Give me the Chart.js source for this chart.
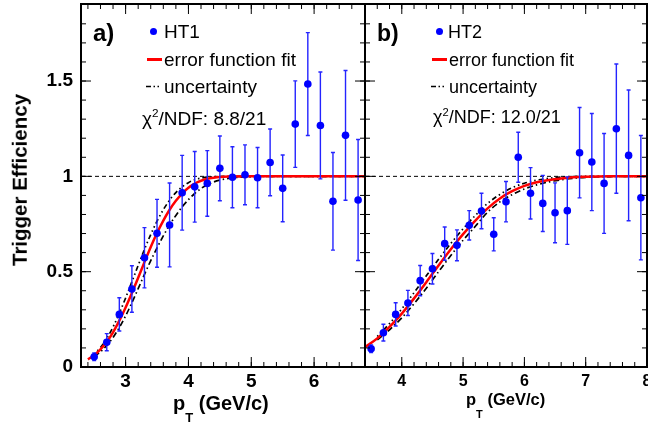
<!DOCTYPE html>
<html>
<head>
<meta charset="utf-8">
<script src="https://cdn.jsdelivr.net/npm/chart.js@4"></script>
<style>
  body{margin:0;background:#fff;}
  #wrap{position:relative;width:648px;height:424px;background:#fff;overflow:hidden;}
  .box{position:absolute;top:0;height:424px;}
  .t{position:absolute;font-family:"Liberation Sans",Arial,Helvetica,sans-serif;white-space:nowrap;line-height:1;color:#000;}
  .b{font-weight:bold;}
  .dot{position:absolute;width:7px;height:7px;border-radius:50%;background:#0000ff;}
  .red{position:absolute;height:2.5px;background:#ff0000;}
  .sup{font-size:0.62em;position:relative;top:-0.62em;}
</style>
</head>
<body>
<div id="wrap">
  <div class="box" style="left:0;width:367px"><canvas id="c1"></canvas></div>
  <div class="box" style="left:360px;width:288px"><canvas id="c2"></canvas></div>

  <!-- y title -->
  <div class="t b" style="left:20px;top:180px;font-size:20.5px;transform:translate(-50%,-50%) rotate(-90deg)">Trigger Efficiency</div>

  <!-- panel a legend -->
  <div class="t b" style="left:93px;top:21px;font-size:24px">a)</div>
  <div class="dot" style="left:150px;top:28px"></div>
  <div class="t" style="left:164px;top:22.4px;font-size:19px">HT1</div>
  <div class="red" style="left:147px;top:58px;width:15px"></div>
  <div class="t" style="left:164px;top:50px;font-size:19px">error function fit</div>
  <svg style="position:absolute;left:146px;top:84px" width="17" height="5"><line x1="0" y1="2.5" x2="16" y2="2.5" stroke="#000" stroke-width="1.6" stroke-dasharray="5,2.5,1.5,2.5,1.5,3"/></svg>
  <div class="t" style="left:164px;top:77.4px;font-size:19px">uncertainty</div>
  <div class="t" style="left:142px;top:108.7px;font-size:19px">χ<span class="sup">2</span>/NDF: 8.8/21</div>

  <!-- panel b legend -->
  <div class="t b" style="left:377px;top:21.7px;font-size:23px">b)</div>
  <div class="dot" style="left:435.5px;top:28px"></div>
  <div class="t" style="left:448px;top:22.9px;font-size:18px">HT2</div>
  <div class="red" style="left:432px;top:58px;width:15px"></div>
  <div class="t" style="left:449px;top:50.5px;font-size:18px">error function fit</div>
  <svg style="position:absolute;left:431px;top:84px" width="17" height="5"><line x1="0" y1="2.5" x2="16" y2="2.5" stroke="#000" stroke-width="1.6" stroke-dasharray="5,2.5,1.5,2.5,1.5,3"/></svg>
  <div class="t" style="left:449px;top:77.9px;font-size:18px">uncertainty</div>
  <div class="t" style="left:433px;top:108.2px;font-size:18px">χ<span class="sup">2</span>/NDF: 12.0/21</div>

  <!-- x titles -->
  <div class="t b" style="left:173px;top:392.7px;font-size:20px">p<span style="font-size:13px;position:relative;top:12px">T</span> (GeV/c)</div>
  <div class="t b" style="left:466px;top:390.9px;font-size:16.5px">p<span style="font-size:11px;position:relative;top:13px">T</span> (GeV/c)</div>
</div>

<script>
(function(){
  // HT1 trigger efficiency points
  const ht1X = [2.5,2.7,2.9,3.1,3.3,3.5,3.7,3.9,4.1,4.3,4.5,4.7,4.9,5.1,5.3,5.5,5.7,5.9,6.1,6.3,6.5,6.7];
  const ht1Y = [0.054,0.130,0.276,0.409,0.573,0.701,0.745,0.914,0.945,0.963,1.042,0.995,1.008,0.993,1.073,0.937,1.274,1.484,1.267,0.869,1.215,0.876];
  const ht1Err = [0.020,0.045,0.087,0.122,0.158,0.178,0.220,0.196,0.185,0.172,0.170,0.160,0.157,0.158,0.175,0.175,0.227,0.270,0.280,0.256,0.340,0.317];

  // HT1 fit and uncertainty band
  const fit1X = [2.4,2.5,2.6,2.7,2.8,2.9,3.0,3.1,3.2,3.3,3.4,3.5,3.6,3.7,3.8,3.9,4.0,4.1,4.2,4.3,4.4,4.5,4.7,5.0,6.81];
  const fit1Y = [0.040,0.062,0.092,0.132,0.182,0.243,0.312,0.388,0.468,0.550,0.630,0.703,0.768,0.825,0.872,0.910,0.940,0.962,0.977,0.987,0.993,0.997,0.999,1.0,1.0];
  const up1X = [2.5,2.6,2.7,2.8,2.9,3.0,3.1,3.2,3.3,3.4,3.5,3.6,3.7,3.8,3.9,4.0,4.1,4.2,4.3,4.5,5.0,6.81];
  const up1Y = [0.068,0.102,0.150,0.210,0.282,0.362,0.447,0.533,0.617,0.695,0.765,0.825,0.875,0.915,0.945,0.967,0.982,0.991,0.996,0.999,1.0,1.0];
  const lo1X = [2.5,2.6,2.7,2.8,2.9,3.0,3.1,3.2,3.3,3.4,3.5,3.6,3.7,3.8,3.9,4.0,4.1,4.2,4.3,4.4,4.5,4.6,4.7,4.8,5.0,5.5,6.81];
  const lo1Y = [0.055,0.080,0.113,0.155,0.207,0.268,0.337,0.411,0.486,0.558,0.625,0.688,0.745,0.795,0.840,0.878,0.910,0.936,0.956,0.970,0.980,0.987,0.992,0.995,0.998,1.0,1.0];

  // HT2 trigger efficiency points
  const ht2X = [3.5,3.7,3.9,4.1,4.3,4.5,4.7,4.9,5.1,5.3,5.5,5.7,5.9,6.1,6.3,6.5,6.7,6.9,7.1,7.3,7.5,7.7,7.9];
  const ht2Y = [0.096,0.180,0.276,0.336,0.453,0.515,0.647,0.638,0.743,0.818,0.696,0.867,1.100,0.911,0.858,0.809,0.820,1.124,1.075,0.963,1.250,1.110,0.888];
  const ht2Err = [0.020,0.044,0.061,0.066,0.079,0.080,0.087,0.081,0.077,0.093,0.087,0.106,0.131,0.135,0.147,0.157,0.177,0.237,0.255,0.262,0.339,0.343,0.326];

  // HT2 fit and uncertainty band
  const fit2X = [3.4,3.6,3.8,4.0,4.2,4.4,4.6,4.8,5.0,5.2,5.4,5.6,5.8,6.0,6.2,6.4,6.6,6.8,7.0,7.4,8.0];
  const fit2Y = [0.104,0.150,0.210,0.280,0.360,0.445,0.533,0.618,0.697,0.768,0.832,0.884,0.922,0.950,0.969,0.981,0.989,0.995,0.998,1.0,1.0];
  const up2X = [3.6,3.8,4.0,4.2,4.4,4.6,4.8,5.0,5.2,5.4,5.6,5.8,6.0,6.2,6.4,6.6,6.8,7.0,8.0];
  const up2Y = [0.160,0.228,0.305,0.390,0.478,0.565,0.648,0.725,0.795,0.858,0.905,0.940,0.964,0.980,0.990,0.996,0.999,1.0,1.0];
  const lo2X = [3.6,3.8,4.0,4.2,4.4,4.6,4.8,5.0,5.2,5.4,5.6,5.8,6.0,6.2,6.4,6.6,6.8,7.0,7.4,8.0];
  const lo2Y = [0.142,0.195,0.258,0.332,0.413,0.500,0.585,0.665,0.738,0.812,0.866,0.904,0.934,0.955,0.971,0.982,0.990,0.995,0.999,1.0];

  // axis ticks
  const xTicks1 = [3,4,5,6];
  const xTicks2 = [4,5,6,7,8];
  const yTicks = [0,0.5,1,1.5];

  const FONT = '"Liberation Sans", Arial, Helvetica, sans-serif';
  const pts = (xs, ys) => xs.map((x,i)=>({x:x, y:ys[i]}));
  const steps = (a, b, d) => { const r=[]; for(let v=a; v<=b+1e-9; v+=d) r.push(+v.toFixed(3)); return r; };

  // frame with inward ticks on all four sides (ROOT style)
  function framePlugin(xMaj, xMin, yMaj, yMin){
    return { id:'frame', afterDraw(chart){
      const {ctx, chartArea:a, scales:{x,y}} = chart;
      ctx.save(); ctx.strokeStyle='#000'; ctx.lineWidth=1;
      const seg=(x1,y1,x2,y2)=>{ ctx.beginPath(); ctx.moveTo(x1,y1); ctx.lineTo(x2,y2); ctx.stroke(); };
      const xt=(v,l)=>{ const p=x.getPixelForValue(v); if(p<a.left+1||p>a.right-1) return; seg(p,a.bottom,p,a.bottom-l); seg(p,a.top,p,a.top+l); };
      const yt=(v,l)=>{ const p=y.getPixelForValue(v); if(p<a.top+1||p>a.bottom-1) return; seg(a.left,p,a.left+l,p); seg(a.right,p,a.right-l,p); };
      xMin.forEach(v=>xt(v,5)); xMaj.forEach(v=>xt(v,10));
      yMin.forEach(v=>yt(v,5)); yMaj.forEach(v=>yt(v,10));
      ctx.lineWidth=2; ctx.strokeRect(a.left,a.top,a.right-a.left,a.bottom-a.top);
      ctx.restore();
    }};
  }

  // vertical error bars, drawn right after the fit curve so points sit on top
  function errPlugin(xs, ys, es){
    return { id:'errbars', afterDatasetDraw(chart, args){
      if(chart.data.datasets[args.index].label!=='fit') return;
      const {ctx, scales:{x,y}} = chart;
      ctx.save(); ctx.strokeStyle='#2424ff'; ctx.lineWidth=1.4;
      xs.forEach((xv,i)=>{
        const px=x.getPixelForValue(xv), t=y.getPixelForValue(ys[i]+es[i]), b=y.getPixelForValue(ys[i]-es[i]);
        ctx.beginPath(); ctx.moveTo(px,t); ctx.lineTo(px,b);
        ctx.moveTo(px-2,t); ctx.lineTo(px+2,t); ctx.moveTo(px-2,b); ctx.lineTo(px+2,b); ctx.stroke();
      });
      ctx.restore();
    }};
  }

  function datasets(xs, ys, fX, fY, uX, uY, lX, lY, xmin, xmax){
    return [
      {label:'data', data:pts(xs,ys), pointRadius:3.8, pointBackgroundColor:'#0000ff', pointBorderWidth:0, showLine:false, order:0},
      {label:'fit', data:pts(fX,fY), borderColor:'#ff0000', borderWidth:2.5, pointRadius:0, showLine:true, cubicInterpolationMode:'monotone', order:1},
      {label:'up', data:pts(uX,uY), borderColor:'#000', borderWidth:1.7, borderDash:[1.5,3,1.5,3,5,3], pointRadius:0, showLine:true, cubicInterpolationMode:'monotone', order:2},
      {label:'lo', data:pts(lX,lY), borderColor:'#000', borderWidth:1.7, borderDash:[6,3,1.5,3], pointRadius:0, showLine:true, cubicInterpolationMode:'monotone', order:2},
      {label:'one', data:[{x:xmin,y:1},{x:xmax,y:1}], borderColor:'#000', borderWidth:1, borderDash:[4,3], pointRadius:0, showLine:true, order:3}
    ];
  }

  function makeChart(id, cfg){
    return new Chart(document.getElementById(id), {
      type:'scatter',
      data:{datasets:datasets(cfg.xs,cfg.ys,cfg.fX,cfg.fY,cfg.uX,cfg.uY,cfg.lX,cfg.lY,cfg.xmin,cfg.xmax)},
      options:{
        responsive:true, maintainAspectRatio:false, animation:false,
        layout:{autoPadding:false, padding:{top:4,right:cfg.padR,left:0,bottom:0}},
        plugins:{legend:{display:false}, tooltip:{enabled:false}},
        scales:{
          x:{type:'linear', min:cfg.xmin, max:cfg.xmax,
             afterBuildTicks:s=>{ s.ticks = cfg.xTicks.map(v=>({value:v})); },
             afterFit:s=>{ s.height = 57; s.paddingLeft = 0; s.paddingRight = 0; },
             grid:{display:false, drawTicks:false}, border:{display:false},
             ticks:{color:'#000', padding:cfg.xPad, maxRotation:0, autoSkip:false, font:{family:FONT, size:cfg.xFont, weight:'bold'}}},
          y:{type:'linear', min:0, max:1.904,
             afterBuildTicks:s=>{ s.ticks = yTicks.map(v=>({value:v})); },
             afterFit:s=>{ s.width = cfg.yW; s.paddingTop = 0; s.paddingBottom = 0; },
             grid:{display:false, drawTicks:false}, border:{display:false},
             ticks:{display:cfg.yLabels, color:'#000', padding:8, font:{family:FONT, size:19, weight:'bold'}, callback:v=>String(v)}}
        }
      },
      plugins:[framePlugin(cfg.xTicks, steps(cfg.minorStart, cfg.xmax, 0.2), yTicks, steps(0, 1.9, 0.1)), errPlugin(cfg.xs, cfg.ys, cfg.es)]
    });
  }

  makeChart('c1', {xs:ht1X, ys:ht1Y, es:ht1Err, fX:fit1X, fY:fit1Y, uX:up1X, uY:up1Y, lX:lo1X, lY:lo1Y,
    xmin:2.29, xmax:6.81, xTicks:xTicks1, minorStart:2.4, padR:2, yW:81, yLabels:true, xFont:19, xPad:3});
  makeChart('c2', {xs:ht2X, ys:ht2Y, es:ht2Err, fX:fit2X, fY:fit2Y, uX:up2X, uY:up2Y, lX:lo2X, lY:lo2Y,
    xmin:3.4, xmax:8.0, xTicks:xTicks2, minorStart:3.4, padR:1, yW:5, yLabels:false, xFont:16, xPad:5});
})();
</script>
</body>
</html>
